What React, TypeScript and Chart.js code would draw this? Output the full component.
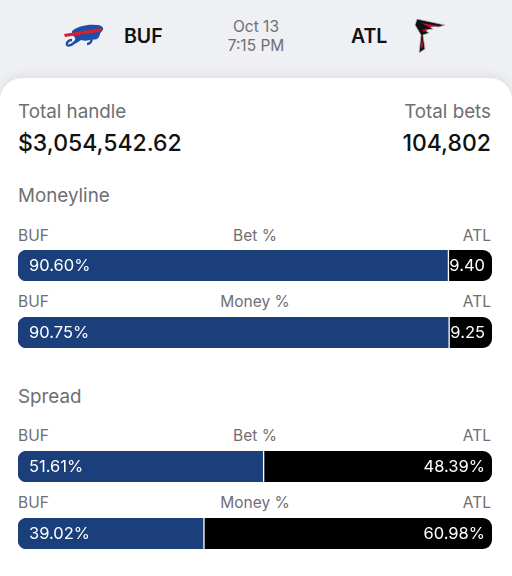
import React, { useEffect, useRef } from "react";
import { Chart, registerables } from "chart.js";
Chart.register(...registerables);

const homeTeam = "BUF";
const awayTeam = "ATL";
const gameDate = "Oct 13";
const gameTime = "7:15 PM";
const totalHandle = "$3,054,542.62";
const totalBets = "104,802";
const markets = ["Moneyline", "Spread"];
const metrics = ["Bet %", "Money %", "Bet %", "Money %"];
const bufValues = [90.6, 90.75, 51.61, 39.02];
const atlValues = [9.4, 9.25, 48.39, 60.98];

const BLUE = "#1b3f7b";
const GRAY = "#6e6e73";
const FONT = "Inter, Roboto, 'Noto Sans', sans-serif";

const labelPlugin = {
  id: "segLabels",
  afterDatasetsDraw(chart: any) {
    const ctx = chart.ctx;
    const e0 = chart.getDatasetMeta(0).data[0];
    const e1 = chart.getDatasetMeta(1).data[0];
    const v0 = chart.data.datasets[0].data[0] as number;
    const v1 = chart.data.datasets[1].data[0] as number;
    ctx.save();
    ctx.fillStyle = "#fff";
    ctx.font = `16.5px ${FONT}`;
    ctx.textBaseline = "middle";
    ctx.textAlign = "left";
    ctx.fillText(v0.toFixed(2) + "%", e0.base + 11, e0.y + 1);
    ctx.textAlign = "right";
    const seg = e1.x - e1.base;
    const txt = seg > 60 ? v1.toFixed(2) + "%" : v1.toFixed(2);
    ctx.fillText(txt, e1.x - 7, e1.y + 1);
    ctx.restore();
  },
};

function SplitBar({ buf, atl, top }: { buf: number; atl: number; top: number }) {
  const ref = useRef<HTMLCanvasElement>(null);
  useEffect(() => {
    const chart = new Chart(ref.current!, {
      type: "bar",
      data: {
        labels: [""],
        datasets: [
          {
            data: [buf],
            backgroundColor: BLUE,
            borderWidth: 0,
            borderSkipped: false,
            borderRadius: { topLeft: 9, bottomLeft: 9, topRight: 0, bottomRight: 0 },
          },
          {
            data: [atl],
            backgroundColor: "#000",
            borderColor: "#fff",
            borderWidth: { left: 2, right: 0, top: 0, bottom: 0 },
            borderSkipped: false,
            borderRadius: { topLeft: 0, bottomLeft: 0, topRight: 9, bottomRight: 9 },
          },
        ],
      } as any,
      options: {
        indexAxis: "y",
        animation: false,
        responsive: false,
        maintainAspectRatio: false,
        layout: { padding: 0 },
        plugins: { legend: { display: false }, tooltip: { enabled: false } },
        scales: {
          x: { stacked: true, min: 0, max: 100, display: false },
          y: { stacked: true, display: false },
        },
        datasets: { bar: { categoryPercentage: 1, barPercentage: 1 } },
      } as any,
      plugins: [labelPlugin],
    });
    return () => chart.destroy();
  }, [buf, atl]);
  return (
    <canvas
      ref={ref}
      width={474}
      height={31}
      style={{ position: "absolute", left: 18, top, width: 474, height: 31 }}
    />
  );
}

function Txt(props: { x?: number; right?: number; cx?: number; y: number; size: number; weight?: number; color: string; children: any }) {
  const style: any = {
    position: "absolute",
    top: props.y - props.size * 0.6,
    fontSize: props.size,
    lineHeight: props.size * 1.2 + "px",
    fontWeight: props.weight ?? 400,
    color: props.color,
    whiteSpace: "nowrap",
    fontFamily: FONT,
  };
  if (props.x !== undefined) style.left = props.x;
  if (props.right !== undefined) style.right = props.right;
  if (props.cx !== undefined) {
    style.left = props.cx - 100;
    style.width = 200;
    style.textAlign = "center";
  }
  return <div style={style}>{props.children}</div>;
}

function BillsLogo() {
  return (
    <svg width="44" height="26" viewBox="0 0 44 26" style={{ position: "absolute", left: 62, top: 23 }}>
      <path d="M10 8 C16 3 26 1 34 2 C39 2 42 4 41 7 C39 8 38 11 37 14 C35 17 32 17 30 16 C27 18 22 18 19 17 C16 19 13 21 10 22 C9 21 11 19 13 17 C14 15 12 13 10 12 Z" fill="#1d4fa6" />
      <path d="M2 11 L40 5 L40 8.5 L3 14 Z" fill="#d4202f" />
      <path d="M12 20 C7 24 4 23 5 20 C6 18 8 17 10 17" stroke="#1d4fa6" strokeWidth="2.4" fill="none" />
      <path d="M30 16 C29 20 27 21 25 21" stroke="#1d4fa6" strokeWidth="2.4" fill="none" />
    </svg>
  );
}

function FalconsLogo() {
  return (
    <svg width="40" height="38" viewBox="0 0 40 38" style={{ position: "absolute", left: 409, top: 17 }}>
      <path d="M8 2 L36 8 L30 10 L20 9 L24 12 L16 13 L20 16 L14 18 L16 32 L10 36 L12 18 L6 8 Z" fill="#111" stroke="#bbb" strokeWidth="0.8" />
      <path d="M12 6 L30 9 L20 10 Z" fill="#c8102e" />
      <path d="M13 13 L20 12 L15 15 Z" fill="#c8102e" />
      <path d="M13 19 L14 30 L12 31 Z" fill="#c8102e" />
    </svg>
  );
}

export default function App() {
  const barTops = [250, 317, 451, 518];
  const labelYs = [236, 302, 436, 503];
  const marketYs = [196, 397];
  return (
    <div style={{ position: "fixed", left: 0, top: 0, width: 512, height: 576, background: "#eff0f4", overflow: "hidden", fontFamily: FONT }}>
      <BillsLogo />
      <Txt x={124} y={37} size={19.5} weight={600} color="#111">{homeTeam}</Txt>
      <Txt cx={256} y={27} size={15.5} color={GRAY}>{gameDate}</Txt>
      <Txt cx={256} y={46} size={15.5} color={GRAY}>{gameTime}</Txt>
      <Txt x={351} y={37} size={19.5} weight={600} color="#111">{awayTeam}</Txt>
      <FalconsLogo />
      <div style={{ position: "absolute", left: 0, top: 78, width: 512, height: 520, background: "#fff", borderRadius: "22px 22px 0 0", boxShadow: "0 -3px 10px rgba(0,0,0,0.07)" }} />
      <Txt x={18} y={112} size={18.8} color={GRAY}>Total handle</Txt>
      <Txt right={21} y={112} size={18.8} color={GRAY}>Total bets</Txt>
      <Txt x={18} y={144} size={23} weight={500} color="#111">{totalHandle}</Txt>
      <Txt right={21} y={144} size={23} weight={500} color="#111">{totalBets}</Txt>
      {markets.map((m, i) => (
        <Txt key={m} x={18} y={marketYs[i]} size={18.8} color={GRAY}>{m}</Txt>
      ))}
      {metrics.map((m, i) => (
        <React.Fragment key={i}>
          <Txt x={18} y={labelYs[i]} size={15.5} color={GRAY}>{homeTeam}</Txt>
          <Txt cx={255} y={labelYs[i]} size={15.5} color={GRAY}>{m}</Txt>
          <Txt right={21} y={labelYs[i]} size={15.5} color={GRAY}>{awayTeam}</Txt>
          <SplitBar buf={bufValues[i]} atl={atlValues[i]} top={barTops[i]} />
        </React.Fragment>
      ))}
    </div>
  );
}
